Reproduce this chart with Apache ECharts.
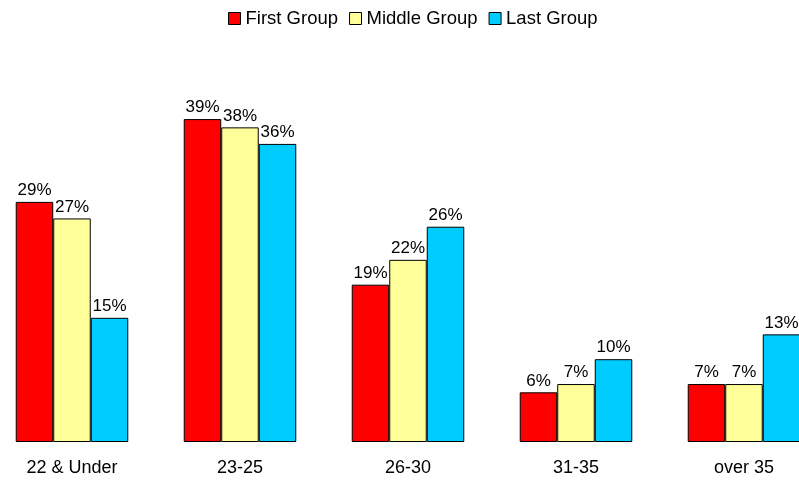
<!DOCTYPE html>
<html><head><meta charset="utf-8">
<script src="https://cdn.jsdelivr.net/npm/echarts@6/dist/echarts.min.js"></script>
<style>html,body{margin:0;padding:0;background:#fff}#c{width:799px;height:486px}</style>
</head><body><div id="c"></div>
<script>
const categories = ['22 & Under', '23-25', '26-30', '31-35', 'over 35'];
const firstGroup = [29, 39, 19, 6, 7];
const middleGroup = [27, 38, 22, 7, 7];
const lastGroup = [15, 36, 26, 10, 13];
const seriesNames = ['First Group', 'Middle Group', 'Last Group'];
const colors = ['#FF0000', '#FFFF99', '#00CCFF'];

const chart = echarts.init(document.getElementById('c'), null, {renderer: 'canvas'});
const font = 'Liberation Sans, Arial, sans-serif';
function mk(name, data, color) {
  return {
    name: name, type: 'bar', data: data,
    barGap: '0%', barCategoryGap: '33%',
    itemStyle: {color: color, borderColor: '#000', borderWidth: 1},
    label: {show: true, position: 'top', distance: 3, formatter: '{c}%',
      color: '#000', fontFamily: font, fontSize: 17},
    emphasis: {disabled: true}, animation: false
  };
}
chart.setOption({
  animation: false,
  legend: {
    top: 4, left: 223, itemWidth: 12, itemHeight: 12, itemGap: 11,
    icon: 'rect',
    itemStyle: {borderColor: '#000', borderWidth: 1},
    textStyle: {fontFamily: font, fontSize: 18.5, color: '#000', padding: [0, 0, 0, 0]},
    data: seriesNames
  },
  grid: {left: -12, right: -29, top: 28, bottom: 44, containLabel: false, outerBoundsMode: 'none'},
  xAxis: {
    type: 'category', data: categories,
    axisLine: {show: false}, axisTick: {show: false},
    axisLabel: {color: '#000', fontFamily: font, fontSize: 18, margin: 17}
  },
  yAxis: {
    type: 'value', min: 0, max: 50, show: false,
    splitLine: {show: false}
  },
  series: [
    mk(seriesNames[0], firstGroup, colors[0]),
    mk(seriesNames[1], middleGroup, colors[1]),
    mk(seriesNames[2], lastGroup, colors[2])
  ]
});
</script></body></html>
